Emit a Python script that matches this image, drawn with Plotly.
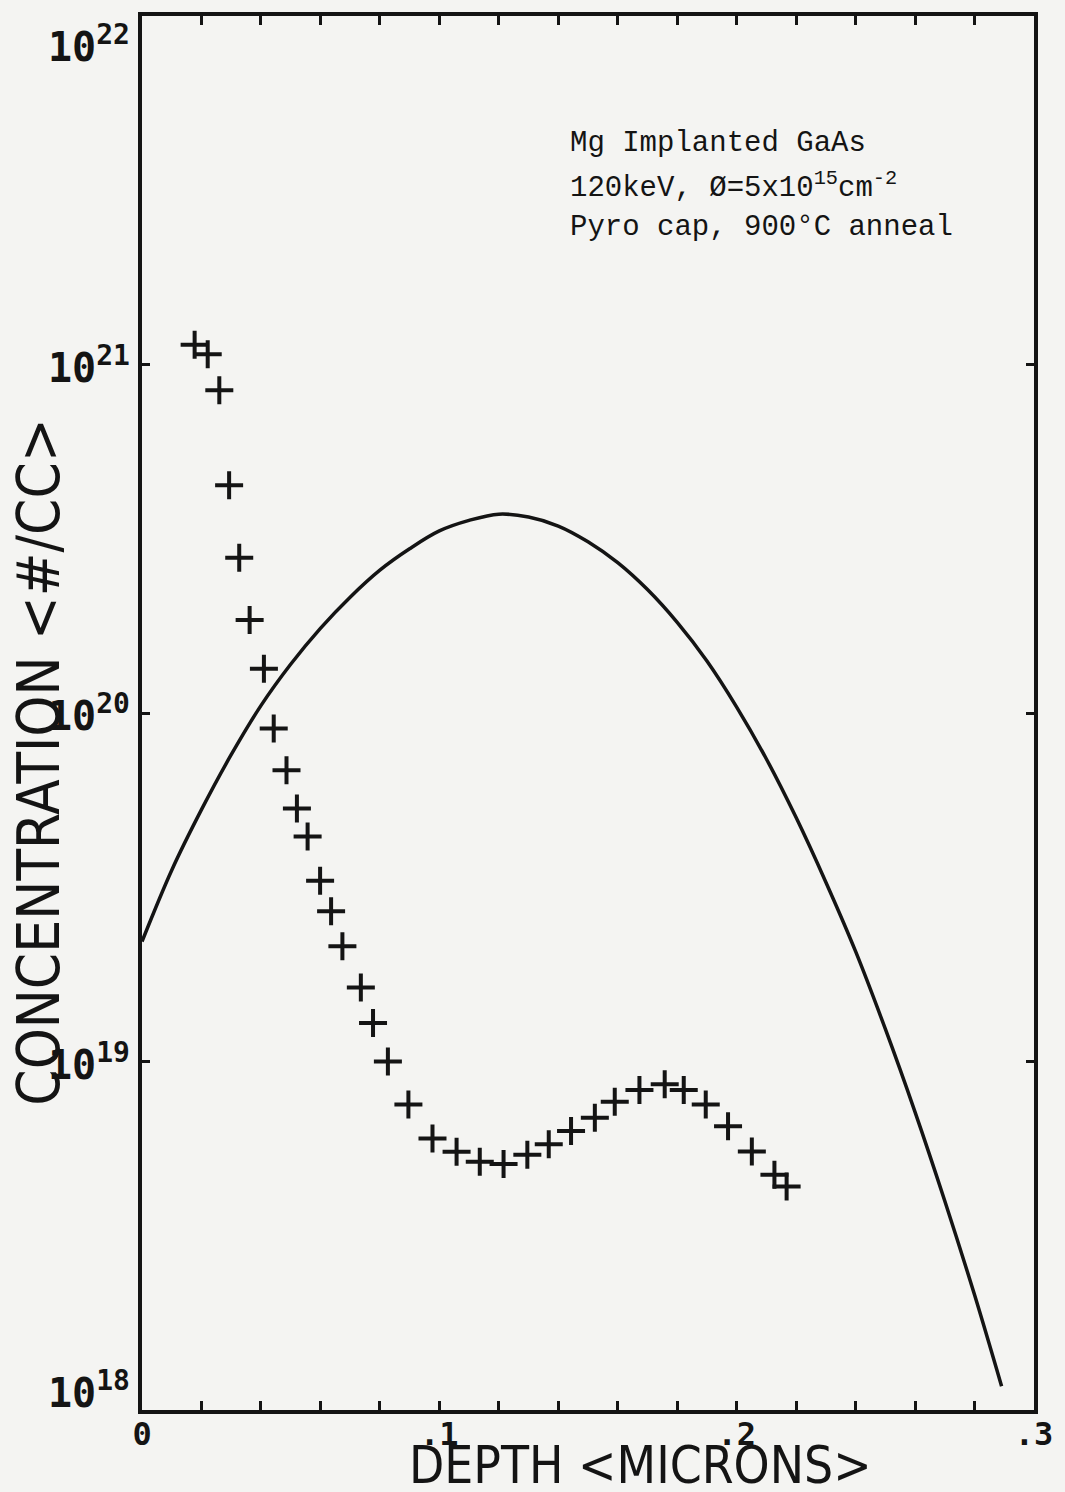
import plotly.graph_objects as go

# ---- data ----
meas_depth = [0.0177, 0.0221, 0.0260, 0.0293, 0.0327, 0.0362, 0.0410, 0.0443, 0.0486,
              0.0521, 0.0557, 0.0599, 0.0636, 0.0674, 0.0736, 0.0777, 0.0827, 0.0896,
              0.0977, 0.1058, 0.1136, 0.1216, 0.1296, 0.1368, 0.1443, 0.1523, 0.1590,
              0.1673, 0.1758, 0.1822, 0.1896, 0.1971, 0.2051, 0.2127, 0.2168]
meas_conc = [1.14e21, 1.07e21, 8.43e20, 4.50e20, 2.79e20, 1.85e20, 1.34e20, 9.02e19, 6.85e19,
             5.32e19, 4.42e19, 3.30e19, 2.70e19, 2.14e19, 1.63e19, 1.29e19, 1.00e19, 7.53e18,
             6.01e18, 5.51e18, 5.16e18, 5.08e18, 5.40e18, 5.79e18, 6.32e18, 6.90e18, 7.66e18,
             8.28e18, 8.61e18, 8.28e18, 7.53e18, 6.52e18, 5.52e18, 4.73e18, 4.38e18]

theory_depth = [0.00, 0.01, 0.02, 0.03, 0.04, 0.05, 0.06, 0.07, 0.08, 0.09, 0.10,
                0.11, 0.12, 0.13, 0.14, 0.15, 0.16, 0.17, 0.18, 0.19, 0.20,
                0.21, 0.22, 0.23, 0.24, 0.25, 0.26, 0.27, 0.28, 0.2891]
theory_conc = [2.21e19, 3.54e19, 5.28e19, 7.59e19, 1.05e20, 1.38e20, 1.75e20, 2.15e20, 2.57e20,
               2.96e20, 3.33e20, 3.57e20, 3.72e20, 3.65e20, 3.44e20, 3.10e20, 2.70e20, 2.26e20,
               1.82e20, 1.41e20, 1.04e20, 7.38e19, 5.01e19, 3.27e19, 2.07e19, 1.24e19, 7.16e18,
               3.98e18, 2.14e18, 1.17e18]

x_tick_vals = [0.0, 0.02, 0.04, 0.06, 0.08, 0.10, 0.12, 0.14, 0.16, 0.18, 0.20, 0.22, 0.24, 0.26, 0.28, 0.30]
x_tick_text = ["0", "", "", "", "", ".1", "", "", "", "", ".2", "", "", "", "", ".3"]
y_tick_vals = [1e18, 1e19, 1e20, 1e21, 1e22]
y_tick_text = ["10<sup>18</sup>", "10<sup>19</sup>", "10<sup>20</sup>", "10<sup>21</sup>", "10<sup>22</sup>"]
y_label_shift = [20, 0, 0, 0, -28]   # labels at the ends are kept inside the frame, as in the original

info_lines = ["Mg Implanted GaAs",
              "120keV, Ø=5x10<sup>15</sup>cm<sup>-2</sup>",
              "Pyro cap, 900°C anneal"]
x_title = "DEPTH &lt;MICRONS&gt;"
y_title = "CONCENTRATION &lt;#/CC&gt;"

INK = "#141414"
BG = "#f4f4f2"
PLOT_FONT = "DejaVu Sans Mono, DejaVu Sans"
TITLE_FONT = "DejaVu Sans Condensed, DejaVu Sans"

L, R, T, B = 142, 23, 12, 82
W, H = 1065, 1492
PW, PH = W - L - R, H - T - B

fig = go.Figure()
fig.add_trace(go.Scatter(
    x=theory_depth, y=theory_conc, mode="lines",
    line=dict(color=INK, width=3.5, shape="spline", smoothing=1.0),
    showlegend=False, hoverinfo="skip"))
fig.add_trace(go.Scatter(
    x=meas_depth, y=meas_conc, mode="markers",
    marker=dict(symbol="cross-thin", size=20, color=INK, line=dict(color=INK, width=4)),
    showlegend=False, hoverinfo="skip"))

fig.update_layout(
    width=W, height=H,
    margin=dict(l=L, r=R, t=T, b=B),
    paper_bgcolor=BG, plot_bgcolor=BG,
    xaxis=dict(range=[0, 0.3], tickvals=x_tick_vals, ticktext=x_tick_text,
               ticks="inside", ticklen=9, tickwidth=3, tickcolor=INK,
               showline=True, linecolor=INK, linewidth=4, mirror="allticks",
               showgrid=False, zeroline=False, ticklabelstandoff=-7,
               tickfont=dict(family=PLOT_FONT, size=32, color=INK, weight="bold")),
    yaxis=dict(type="log", range=[18, 22.00001], tickvals=y_tick_vals,
               showticklabels=False,
               ticks="inside", ticklen=8, tickwidth=3, tickcolor=INK,
               showline=True, linecolor=INK, linewidth=4, mirror="allticks",
               showgrid=False, zeroline=False),
)

# decade labels of the concentration axis, placed on the axis scale
for v, t, s in zip(y_tick_vals, y_tick_text, y_label_shift):
    fig.add_annotation(text=t, xref="paper", yref="y", x=-10 / PW, y=len(str(int(v))) - 1,
                       xanchor="right", yanchor="middle", yshift=s, showarrow=False,
                       font=dict(family=PLOT_FONT, size=40, color=INK, weight="bold"))

fig.add_annotation(text=x_title, xref="paper", yref="paper", x=(645 - L) / PW,
                   y=1 - (1466 - T) / PH,
                   xanchor="center", yanchor="middle", showarrow=False,
                   font=dict(family=TITLE_FONT, size=51, color=INK))
fig.add_annotation(text=y_title, xref="paper", yref="paper", x=(38 - L) / PW,
                   y=1 - (760 - T) / PH,
                   xanchor="center", yanchor="middle", textangle=-90, showarrow=False,
                   font=dict(family=TITLE_FONT, size=58, color=INK))

for i, line in enumerate(info_lines):
    fig.add_annotation(text=line, xref="paper", yref="paper",
                       x=(572 - L) / PW, y=1 - (140 + 42 * i - T) / PH,
                       xanchor="left", yanchor="middle", showarrow=False,
                       font=dict(family="Liberation Mono", size=29, color=INK))

fig.write_html("out.html")
